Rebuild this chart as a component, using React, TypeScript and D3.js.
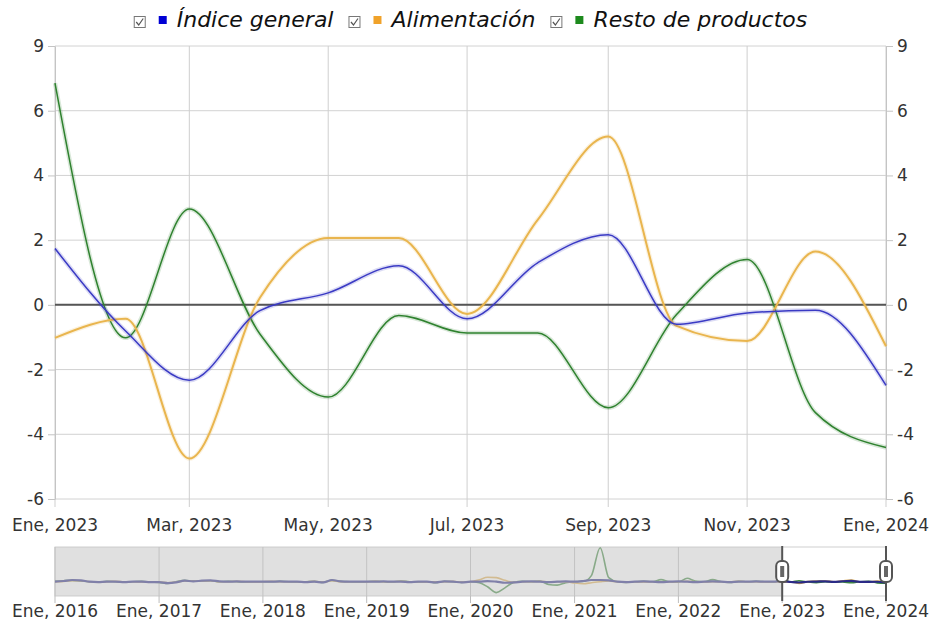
import React, { useEffect, useRef } from 'react';
import * as d3 from 'd3';

// Main chart: monthly values, Ene 2023 .. Ene 2024
const months = ['2023-01', '2023-02', '2023-03', '2023-04', '2023-05', '2023-06', '2023-07',
  '2023-08', '2023-09', '2023-10', '2023-11', '2023-12', '2024-01'];
const indiceGeneral = [1.74, -0.81, -2.33, -0.18, 0.37, 1.21, -0.43, 1.3, 2.17, -0.6, -0.25, -0.17, -2.49];
const alimentacion = [-1.02, -0.43, -4.75, 0.22, 2.07, 2.07, -0.28, 2.63, 5.2, -0.65, -1.12, 1.65, -1.28];
const restoProductos = [6.85, -1.02, 2.96, -0.9, -2.85, -0.33, -0.87, -0.87, -3.18, -0.3, 1.4, -3.33, -4.41];

const yTickValues = [-6, -4, -2, 0, 2, 4, 6, 8];
const yTickLabels = ['-6', '-4', '-2', '0', '2', '4', '6', '9'];
const xTicks = ['2023-01', '2023-03', '2023-05', '2023-07', '2023-09', '2023-11', '2024-01'];
const xTickLabels = ['Ene, 2023', 'Mar, 2023', 'May, 2023', 'Jul, 2023', 'Sep, 2023', 'Nov, 2023', 'Ene, 2024'];

// Navigator history, monthly Ene 2016 .. Dic 2022
const navIndice = [
  0, 2, 5, 4, 0, -1, 0, 0, -1, 0, 0, -1,
  -1, -4, -2, 3, 1, 3, 4, 1, 0, 1, 0, 0,
  0, 0, 1, 0, 0, -1, 0, -2, 5, 1, 0, 0,
  0, 0, 1, 0, 0, -1, 0, 0, -2, 1, 0, -2,
  0, 0, 2, 0, -3, -2, 0, 1, 0, -1, 0, 1,
  0, 2, 5, 5, 4, 0, -1, 0, 1, 0, -1, 0,
  1, 0, -1, 0, 1, 0, -1, 0, 0, 1, 0, 0,
];
const navAlimentacion = [
  0, 1, 3, 3, 0, -1, 0, 1, 0, 0, -1, 0,
  0, -3, -1, 2, 2, 2, 3, 0, 0, 1, 0, -1,
  0, 1, 0, 0, 0, 0, 1, -1, 3, 0, 0, 0,
  0, 1, 0, 0, 1, 0, 0, -1, 0, 0, 1, -1,
  0, 6, 13, 12, 4, -2, 0, 0, 1, 0, 0, 0,
  -4, -6, -3, 0, 2, 0, 0, 0, -1, 0, 0, -1,
  0, 1, 0, -1, 0, 0, 0, 1, 0, 0, -1, 0,
];
const navResto = [
  1, 3, 4, 2, 0, -1, 1, 0, -1, 0, 1, -1,
  -2, -5, 0, 4, 2, 2, 3, 0, 1, 0, -1, 0,
  0, 0, 1, 0, -1, 0, 1, -2, 4, 1, 0, -1,
  0, 1, 0, -1, 2, 0, -1, 0, -3, 1, 0, -2,
  0, -3, -15, -32, -18, -2, 1, 0, 2, -8, -10, -3,
  0, 1, 18, 100, 12, 0, -2, 0, 1, 0, 6, 0,
  -1, 10, 2, 0, 6, 0, -2, 1, 0, 1, 0, -1,
];
const navYears = ['2016', '2017', '2018', '2019', '2020', '2021', '2022', '2023', '2024'];
const navTickLabels = ['Ene, 2016', 'Ene, 2017', 'Ene, 2018', 'Ene, 2019', 'Ene, 2020',
  'Ene, 2021', 'Ene, 2022', 'Ene, 2023', 'Ene, 2024'];

const seriesNames = ['Índice general', 'Alimentación', 'Resto de productos'];
const lineColors = ['#3a3ac4', '#e9b54e', '#2f822f'];
const legendColors = ['#0000d4', '#f0a22a', '#1d8a1d'];
const navColors = ['#2a2a86', '#e0ae50', '#3f883f'];

const App = () => {
  const svgRef = useRef<SVGSVGElement>(null);

  useEffect(() => {
    if (!svgRef.current) return;
    const svg = d3.select(svgRef.current);
    svg.selectAll('*').remove();

    const font = "'DejaVu Sans', Verdana, sans-serif";
    const left = 55, right = 886, top = 46, bottom = 499;
    const parse = d3.timeParse('%Y-%m');
    const dates = months.map(m => parse(m) as Date);

    const x = d3.scaleTime().domain([dates[0], dates[dates.length - 1]]).range([left, right]);
    const y = d3.scaleLinear().domain([-6, 8]).range([bottom, top]);

    // horizontal grid
    svg.append('g')
      .selectAll('line')
      .data(yTickValues)
      .join('line')
      .attr('x1', left).attr('x2', right)
      .attr('y1', d => y(d)).attr('y2', d => y(d))
      .attr('stroke', '#d2d2d2');

    // vertical grid, extends below plot as tick
    svg.append('g')
      .selectAll('line')
      .data(xTicks)
      .join('line')
      .attr('x1', d => x(parse(d) as Date)).attr('x2', d => x(parse(d) as Date))
      .attr('y1', top).attr('y2', bottom + 8)
      .attr('stroke', '#cfcfcf');

    // left / right axes
    const styleAxis = (g: any) => {
      g.select('.domain').attr('stroke', '#c4c4c4');
      g.selectAll('.tick line').attr('stroke', '#c4c4c4');
      g.selectAll('.tick text')
        .attr('fill', '#333')
        .style('font-family', font)
        .style('font-size', '17px');
    };
    svg.append('g')
      .attr('transform', `translate(${left},0)`)
      .call(d3.axisLeft(y).tickValues(yTickValues).tickFormat((d, i) => yTickLabels[i])
        .tickSize(7).tickSizeOuter(0).tickPadding(4))
      .call(styleAxis);
    svg.append('g')
      .attr('transform', `translate(${right},0)`)
      .call(d3.axisRight(y).tickValues(yTickValues).tickFormat((d, i) => yTickLabels[i])
        .tickSize(7).tickSizeOuter(0).tickPadding(4))
      .call(styleAxis);

    // x labels
    svg.append('g')
      .selectAll('text')
      .data(xTicks)
      .join('text')
      .attr('x', d => x(parse(d) as Date))
      .attr('y', 531)
      .attr('text-anchor', 'middle')
      .attr('fill', '#333')
      .style('font-family', font)
      .style('font-size', '17px')
      .text((d, i) => xTickLabels[i]);

    // zero line
    svg.append('line')
      .attr('x1', left).attr('x2', right)
      .attr('y1', y(0)).attr('y2', y(0))
      .attr('stroke', '#555').attr('stroke-width', 2);

    // lines
    const line = d3.line<number>()
      .x((d, i) => x(dates[i]))
      .y(d => y(d))
      .curve(d3.curveMonotoneX);
    const allSeries = [indiceGeneral, alimentacion, restoProductos];
    [2, 1, 0].forEach(k => {
      svg.append('path')
        .datum(allSeries[k])
        .attr('fill', 'none')
        .attr('stroke', lineColors[k])
        .attr('stroke-opacity', 0.18)
        .attr('stroke-width', 4.5)
        .attr('d', line);
      svg.append('path')
        .datum(allSeries[k])
        .attr('fill', 'none')
        .attr('stroke', lineColors[k])
        .attr('stroke-width', k === 1 ? 2 : 1.5)
        .attr('d', line);
    });

    // legend
    const legend = svg.append('g').attr('transform', 'translate(0,27)');
    let cx = 0;
    seriesNames.forEach((name, i) => {
      const item = legend.append('g').attr('transform', `translate(${cx},0)`);
      item.append('rect')
        .attr('x', 0.5).attr('y', -10.5).attr('width', 11).attr('height', 11)
        .attr('fill', '#fff').attr('stroke', '#777');
      item.append('path')
        .attr('d', 'M2.5,-5 L5,-2 L9.5,-8.5')
        .attr('fill', 'none').attr('stroke', '#555').attr('stroke-width', 1.2);
      item.append('rect')
        .attr('x', 25).attr('y', -11).attr('width', 8).attr('height', 8)
        .attr('fill', legendColors[i]);
      const t = item.append('text')
        .attr('x', 43).attr('y', 0)
        .attr('fill', '#111')
        .style('font-family', font)
        .style('font-size', '22px')
        .style('font-style', 'italic')
        .text(name);
      const w = (t.node() as SVGTextElement).getComputedTextLength();
      cx += 43 + w + 15;
    });
    const legendW = cx - 15;
    legend.attr('transform', `translate(${(left + right) / 2 - legendW / 2},27)`);

    // navigator
    const nTop = 547, nBottom = 596;
    const navDates = d3.timeMonth.range(new Date(2016, 0, 1), new Date(2023, 0, 1)).concat(dates);
    const navX = d3.scaleTime().domain([navDates[0], navDates[navDates.length - 1]]).range([left, right]);
    const navY = d3.scaleLinear().domain([-42, 102]).range([nBottom, nTop]);
    const yearDates = navYears.map(yr => new Date(+yr, 0, 1));
    const selStart = navX(new Date(2023, 0, 1));

    svg.append('rect')
      .attr('x', left).attr('y', nTop).attr('width', right - left).attr('height', nBottom - nTop)
      .attr('fill', '#fff').attr('stroke', '#cfcfcf');
    svg.append('g')
      .selectAll('line')
      .data(yearDates)
      .join('line')
      .attr('x1', d => navX(d)).attr('x2', d => navX(d))
      .attr('y1', nTop).attr('y2', nBottom + 7)
      .attr('stroke', '#bdbdbd');

    const navLine = d3.line<number>()
      .x((d, i) => navX(navDates[i]))
      .y(d => navY(d))
      .curve(d3.curveMonotoneX);
    const navSeries = [
      navIndice.concat(indiceGeneral),
      navAlimentacion.concat(alimentacion),
      navResto.concat(restoProductos),
    ];
    [2, 1, 0].forEach(k => {
      svg.append('path')
        .datum(navSeries[k])
        .attr('fill', 'none')
        .attr('stroke', navColors[k])
        .attr('stroke-width', k === 0 ? 2.2 : 1.6)
        .attr('d', navLine);
    });

    // unselected shade
    svg.append('rect')
      .attr('x', left).attr('y', nTop).attr('width', selStart - left).attr('height', nBottom - nTop)
      .attr('fill', '#c6c6c6').attr('fill-opacity', 0.55);

    // handles
    [selStart, right].forEach(hx => {
      const h = svg.append('g').attr('transform', `translate(${hx},0)`);
      h.append('line')
        .attr('x1', 0).attr('x2', 0).attr('y1', nTop - 1).attr('y2', nBottom + 5)
        .attr('stroke', '#555').attr('stroke-width', 2);
      h.append('rect')
        .attr('x', -6).attr('y', 561).attr('width', 12).attr('height', 21).attr('rx', 5)
        .attr('fill', '#fff').attr('stroke', '#555').attr('stroke-width', 2);
      h.append('rect')
        .attr('x', -2).attr('y', 566).attr('width', 4).attr('height', 11)
        .attr('fill', '#666');
    });

    svg.append('g')
      .selectAll('text')
      .data(yearDates)
      .join('text')
      .attr('x', d => navX(d))
      .attr('y', 617)
      .attr('text-anchor', 'middle')
      .attr('fill', '#333')
      .style('font-family', font)
      .style('font-size', '17px')
      .text((d, i) => navTickLabels[i]);
  }, []);

  return (
    <svg ref={svgRef} width={933} height={629}
      style={{ position: 'absolute', left: 0, top: 0, background: '#fff' }} />
  );
};

export default App;
